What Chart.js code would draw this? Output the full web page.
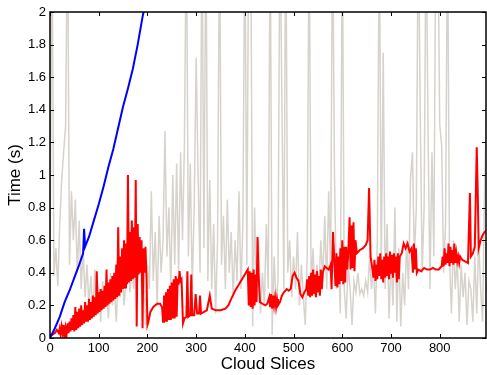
<!DOCTYPE html>
<html>
<head>
<meta charset="utf-8">
<script src="https://cdn.jsdelivr.net/npm/chart.js@4.4.0/dist/chart.umd.min.js"></script>
<style>
  html, body { margin: 0; padding: 0; background: #fff; }
</style>
</head>
<body>
<canvas id="timeChart" width="487" height="375"></canvas>
<script>
// tick values / labels
const xTicks = [0, 100, 200, 300, 400, 500, 600, 700, 800];
const yTicks = [0, 0.2, 0.4, 0.6, 0.8, 1, 1.2, 1.4, 1.6, 1.8, 2];
const yTickLabels = ['0', '0.2', '0.4', '0.6', '0.8', '1', '1.2', '1.4', '1.6', '1.8', '2'];

// grey series, one value every 4 cloud slices (0..896)
const grayStep = 4;
const grayTimes = [
  0.4, 2.6, 0.38, 0.55, 0.32, 0.7, 0.97, 1.14, 1.3, 2.6,
  0.45, 0.9, 0.6, 0.85, 0.4, 0.72, 0.3, 0.55, 0.25, 0.45,
  0.2, 0.38, 0.15, 0.42, 0.22, 0.3, 0.1, 0.35, 0.18, 0.28,
  0.12, 0.4, 0.2, 0.32, 0.1, 0.38, 0.25, 0.45, 0.2, 0.35,
  0.5, 0.28, 0.4, 0.3, 0.55, 0.35, 0.6, 0.3, 0.5, 0.08,
  0.45, 0.3, 0.9, 0.35, 0.65, 0.2, 0.75, 0.4, 0.6, 1.27,
  0.5, 0.8, 0.3, 1.0, 0.45, 1.07, 0.4, 1.14, 0.6, 1.2,
  2.6, 0.5, 1.07, 0.3, 0.8, 1.72, 1.0, 0.4, 2.6, 0.55,
  2.6, 0.35, 0.97, 0.3, 0.7, 0.15, 0.6, 2.6, 0.45, 0.75,
  0.3, 0.85, 0.4, 0.65, 0.25, 0.6, 0.35, 0.9, 0.3, 0.7,
  2.6, 0.45, 2.6, 2.6, 0.07, 0.8, 0.25, 0.6, 0.15, 0.4,
  0.2, 0.7, 0.3, 2.6, 0.02, 0.5, 0.2, 0.35, 2.6, 1.47,
  0.3, 2.6, 0.4, 0.6, 0.25, 0.5, 0.3, 0.65, 0.2, 0.45,
  0.25, 0.08, 0.5, 2.6, 0.3, 0.55, 0.25, 0.45, 0.3, 0.6,
  0.35, 0.75, 0.3, 0.9, 0.4, 2.6, 1.0, 0.3, 0.5, 0.15,
  2.6, 0.3, 0.12, 0.45, 0.3, 0.08, 0.35, 0.28, 0.4, 0.27,
  0.3, 0.26, 0.35, 0.28, 0.5, 0.3, 0.45, 0.15, 0.6, 2.6,
  0.4, 1.75, 0.3, 0.7, 0.12, 0.5, 0.2, 0.8, 0.1, 0.55,
  0.07, 0.4, 0.2, 0.6, 0.3, 0.97, 1.14, 0.5, 0.8, 2.6,
  1.38, 0.4, 0.8, 2.6, 1.28, 0.3, 1.14, 0.5, 2.6, 2.6,
  1.31, 1.18, 0.4, 0.7, 2.6, 0.5, 0.15, 0.6, 0.3, 0.5,
  0.1, 0.45, 0.25, 0.4, 0.08, 0.35, 0.3, 0.1, 0.5, 0.15,
  0.6, 0.3, 0.1, 0.9, 1.44
];

// red series [slice, time]
const redTimes = [
  [0,0.01],[5,0.02],[10,0.03],[14,0.05],[18,0.03],[20,0.06],[22,0.02],[24,0.07],[26,0.03],[28,0.08],
  [30,0.0],[32,0.06],[34,0.02],[36,0.09],[38,0.03],[40,0.1],[42,0.04],[44,0.12],[46,0.05],[48,0.14],
  [50,0.04],[52,0.19],[54,0.05],[56,0.16],[58,0.06],[60,0.18],[62,0.07],[64,0.2],[66,0.08],[68,0.17],
  [70,0.09],[72,0.22],[74,0.1],[76,0.2],[78,0.1],[80,0.24],[82,0.11],[84,0.22],[86,0.12],[88,0.26],
  [90,0.13],[92,0.25],[94,0.14],[96,0.41],[98,0.15],[100,0.28],[102,0.16],[104,0.3],[106,0.17],[108,0.29],
  [110,0.18],[112,0.32],[114,0.19],[116,0.42],[118,0.2],[120,0.34],[122,0.21],[124,0.36],[126,0.22],[128,0.38],
  [130,0.23],[132,0.4],[134,0.24],[136,0.45],[138,0.25],[140,0.68],[142,0.26],[144,0.5],[146,0.28],[148,0.55],
  [150,0.3],[152,0.6],[154,0.31],[156,0.58],[158,0.33],[160,1.0],[162,0.34],[164,0.65],[166,0.35],[168,0.72],
  [170,0.36],[172,0.68],[174,0.37],[176,0.97],[178,0.07],[180,0.7],[182,0.39],[184,0.62],[186,0.4],[188,0.6],
  [190,0.06],[192,0.55],[194,0.4],[196,0.56],[198,0.38],[200,0.08],[202,0.1],[206,0.16],[212,0.19],[220,0.21],
  [226,0.21],[230,0.19],[232,0.1],[234,0.26],[236,0.1],[238,0.28],[240,0.1],[242,0.3],[244,0.11],[246,0.32],
  [248,0.11],[250,0.34],[252,0.12],[254,0.36],[256,0.12],[258,0.38],[260,0.13],[262,0.35],[264,0.34],[266,0.41],
  [268,0.35],[270,0.36],[273,0.09],[276,0.12],[280,0.13],[282,0.41],[284,0.13],[288,0.14],[290,0.39],[292,0.14],
  [296,0.14],[299,0.27],[302,0.15],[306,0.15],[308,0.26],[310,0.15],[316,0.16],[322,0.17],[328,0.26],[332,0.18],
  [340,0.17],[350,0.17],[360,0.18],[366,0.2],[372,0.24],[380,0.29],[388,0.33],[396,0.37],[402,0.4],[406,0.42],
  [408,0.2],[410,0.41],[412,0.19],[414,0.4],[416,0.18],[418,0.42],[420,0.2],[422,0.39],[424,0.22],[426,0.62],
  [428,0.4],[431,0.22],[436,0.21],[442,0.2],[446,0.21],[450,0.25],[452,0.19],[454,0.27],[456,0.18],[458,0.26],
  [460,0.2],[462,0.25],[464,0.19],[466,0.24],[468,0.2],[472,0.22],[476,0.26],[480,0.28],[486,0.3],[490,0.29],
  [494,0.3],[498,0.38],[502,0.4],[506,0.37],[510,0.35],[514,0.27],[518,0.25],[522,0.28],[526,0.3],[528,0.36],
  [530,0.26],[532,0.38],[534,0.25],[536,0.4],[538,0.26],[540,0.42],[542,0.27],[544,0.39],[546,0.25],[548,0.41],
  [550,0.28],[552,0.38],[554,0.26],[556,0.42],[558,0.3],[560,0.4],[564,0.44],[568,0.43],[572,0.42],[576,0.45],
  [578,0.3],[581,0.65],[584,0.45],[586,0.32],[588,0.52],[590,0.31],[592,0.5],[594,0.33],[596,0.55],[598,0.35],
  [600,0.6],[602,0.33],[604,0.56],[606,0.34],[608,0.56],[610,0.42],[612,0.5],[615,0.74],[617,0.42],[619,0.69],
  [621,0.43],[623,0.71],[625,0.41],[627,0.6],[630,0.52],[636,0.54],[642,0.55],[648,0.57],[652,0.6],[655,0.92],
  [658,0.5],[661,0.44],[664,0.37],[666,0.48],[668,0.35],[670,0.45],[672,0.36],[674,0.5],[676,0.38],[678,0.52],
  [680,0.36],[682,0.48],[684,0.34],[686,0.5],[688,0.37],[690,0.52],[692,0.38],[694,0.5],[696,0.36],[698,0.53],
  [700,0.4],[702,0.51],[704,0.37],[706,0.52],[708,0.4],[710,0.5],[712,0.34],[714,0.52],[716,0.36],[718,0.5],
  [722,0.52],[726,0.58],[730,0.55],[734,0.58],[738,0.53],[742,0.55],[745,0.4],[747,0.58],[749,0.42],[751,0.55],
  [753,0.4],[756,0.42],[762,0.41],[768,0.43],[774,0.42],[780,0.42],[786,0.43],[792,0.42],[798,0.42],[804,0.44],
  [806,0.5],[808,0.44],[810,0.55],[812,0.45],[814,0.52],[816,0.46],[818,0.58],[820,0.44],[822,0.56],[824,0.46],
  [826,0.54],[828,0.45],[830,0.58],[832,0.46],[834,0.52],[836,0.47],[838,0.5],[840,0.46],[842,0.5],[846,0.48],
  [852,0.47],[858,0.46],[862,0.89],[864,0.5],[868,0.52],[872,0.56],[876,1.17],[878,0.9],[880,0.55],[884,0.6],
  [888,0.63],[892,0.65],[896,0.66]
];

// blue series [slice, time]
const blueTimes = [
  [0,0],[10,0.06],[20,0.13],[30,0.22],[40,0.29],[50,0.37],[60,0.45],[68,0.52],[70,0.67],[72,0.56],
  [80,0.62],[90,0.72],[100,0.82],[110,0.93],[120,1.05],[130,1.16],[140,1.29],[150,1.42],[160,1.53],
  [170,1.65],[180,1.8],[190,1.97],[196,2.06]
];

const FONT = "'Liberation Sans', Arial, Helvetica, sans-serif";

// matlab style box with inward ticks
const boxPlugin = {
  id: 'box',
  afterDatasetsDraw(chart) {
    const { ctx, chartArea: a, scales: { x, y } } = chart;
    ctx.save();
    ctx.strokeStyle = '#000';
    ctx.lineWidth = 1;
    ctx.beginPath();
    x.ticks.forEach(t => {
      const px = Math.round(x.getPixelForValue(t.value)) + 0.5;
      ctx.moveTo(px, a.bottom); ctx.lineTo(px, a.bottom - 4);
      ctx.moveTo(px, a.top); ctx.lineTo(px, a.top + 4);
    });
    y.ticks.forEach(t => {
      const py = Math.round(y.getPixelForValue(t.value)) + 0.5;
      ctx.moveTo(a.left, py); ctx.lineTo(a.left + 4, py);
      ctx.moveTo(a.right, py); ctx.lineTo(a.right - 4, py);
    });
    ctx.stroke();
    ctx.lineWidth = 1.5;
    ctx.strokeRect(a.left, a.top, a.right - a.left, a.bottom - a.top);
    ctx.restore();
  }
};

const lineStyle = { pointRadius: 0, tension: 0, fill: false, clip: 0 };

new Chart(document.getElementById('timeChart'), {
  type: 'line',
  data: {
    datasets: [
      Object.assign({
        data: blueTimes.map(p => ({ x: p[0], y: p[1] })),
        borderColor: '#0000ff', borderWidth: 2, order: 0
      }, lineStyle),
      Object.assign({
        data: redTimes.map(p => ({ x: p[0], y: p[1] })),
        borderColor: '#ff0000', borderWidth: 2, order: 1
      }, lineStyle),
      Object.assign({
        data: grayTimes.map((v, i) => ({ x: i * grayStep, y: v })),
        borderColor: '#d7d3cc', borderWidth: 1.5, order: 2
      }, lineStyle)
    ]
  },
  options: {
    responsive: false,
    animation: false,
    layout: { padding: { top: 12, right: 1, left: 0, bottom: 0 } },
    plugins: { legend: { display: false }, tooltip: { enabled: false } },
    scales: {
      x: {
        type: 'linear', min: 0, max: 895,
        afterBuildTicks: s => { s.ticks = xTicks.map(v => ({ value: v })); },
        afterFit: s => { s.height = 37; },
        grid: { display: false, drawTicks: false }, border: { display: false },
        ticks: { color: '#000', font: { family: FONT, size: 13 }, padding: 3, maxRotation: 0, autoSkip: false },
        title: { display: true, text: 'Cloud Slices', color: '#000', font: { family: FONT, size: 17 }, padding: 0 }
      },
      y: {
        min: 0, max: 2,
        afterBuildTicks: s => { s.ticks = yTicks.map(v => ({ value: v })); },
        afterFit: s => { s.width = 50; },
        grid: { display: false, drawTicks: false }, border: { display: false },
        ticks: { color: '#000', font: { family: FONT, size: 13 }, padding: 4, autoSkip: false,
          callback: (v, i) => yTickLabels[i] },
        title: { display: true, text: 'Time (s)', color: '#000', font: { family: FONT, size: 17 }, padding: { top: 5, bottom: 0 } }
      }
    }
  },
  plugins: [boxPlugin]
});
</script>
</body>
</html>
